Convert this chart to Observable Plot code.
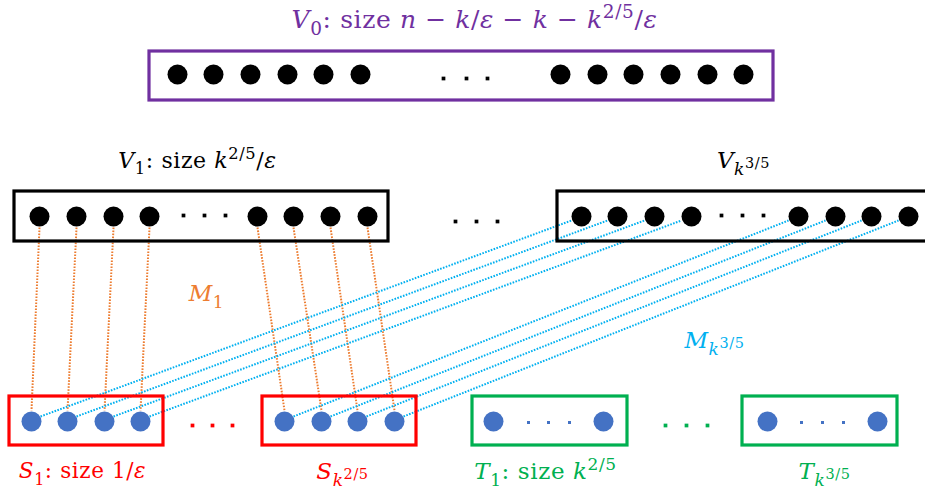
<!DOCTYPE html>
<html>
<head>
<meta charset="utf-8">
<script src="https://cdn.jsdelivr.net/npm/d3@7"></script>
<script src="https://cdn.jsdelivr.net/npm/@observablehq/plot@0.6"></script>
<style>
  html, body { margin: 0; padding: 0; background: #fff; }
  svg { display: block; }
</style>
</head>
<body>
<div id="chart"></div>
<script>
// ---- data (diagram layout values, in pixel units of the 925x500 canvas) ----
const rowY = { V0: 74, V: 216, S: 421 };
const v0Dots = [177, 213, 250, 287, 323, 360, 560, 597, 633, 670, 707, 743];
const v1Dots = [39, 76, 113, 149, 257, 293, 330, 367];
const vkDots = [581, 617, 654, 691, 798, 835, 871, 908];
const s1Dots = [31, 67, 104, 140];
const skDots = [284, 321, 357, 394];
const tDots = [493, 603, 767, 877];
const boxNames = ["V0", "V1", "Vk", "S1", "Sk", "T1", "Tk"];
const boxKinds = ["V0", "V", "V", "S", "S", "T", "T"];
const boxX1 = [149, 14, 557, 9, 262, 472, 742];
const boxX2 = [773, 388, 930, 163, 416, 627, 897];
const boxY1 = [51, 191, 191, 396, 396, 396, 396];
const boxY2 = [100, 241, 241, 445, 445, 445, 445];
const ellipsisBig = [
  {x: 443, y: 78, k: "V"}, {x: 466, y: 78, k: "V"}, {x: 487, y: 78, k: "V"},
  {x: 183, y: 215, k: "V"}, {x: 204, y: 215, k: "V"}, {x: 225, y: 215, k: "V"},
  {x: 721, y: 215, k: "V"}, {x: 742, y: 215, k: "V"}, {x: 763, y: 215, k: "V"},
  {x: 455, y: 221, k: "V"}, {x: 476, y: 221, k: "V"}, {x: 497, y: 221, k: "V"},
  {x: 192, y: 425, k: "S"}, {x: 212, y: 425, k: "S"}, {x: 232, y: 425, k: "S"},
  {x: 665, y: 425, k: "T"}, {x: 686, y: 425, k: "T"}, {x: 707, y: 425, k: "T"}
];
const ellipsisSmall = [528, 548, 569, 801, 822, 843];
const labels = [
  {x: 474, y: 19, t: "V_0: size n − k/ε − k − k^{2/5}/ε", k: "V0", fs: 25},
  {x: 197, y: 160, t: "V_1: size k^{2/5}/ε", k: "V", fs: 22},
  {x: 743, y: 160, t: "V_{k^{3/5}}", k: "V", fs: 23},
  {x: 82, y: 471, t: "S_1: size 1/ε", k: "S", fs: 21.5},
  {x: 342, y: 471, t: "S_{k^{2/5}}", k: "S", fs: 23},
  {x: 545, y: 471, t: "T_1: size k^{2/5}", k: "T", fs: 23},
  {x: 824, y: 471, t: "T_{k^{3/5}}", k: "T", fs: 23},
  {x: 206, y: 293, t: "M_1", k: "M1", fs: 23},
  {x: 714, y: 340, t: "M_{k^{3/5}}", k: "Mk", fs: 23}
];
const kinds = ["V0", "V", "S", "T", "M1", "Mk"];
const kindColors = ["#7030A0", "#000000", "#FF0000", "#00B050", "#ED7D31", "#00B0F0"];
const dotBlue = "#4472C4";
const mathFont = "DejaVu Serif";

// ---- derived tables ----
const boxes = boxNames.map((n, i) => ({n, k: boxKinds[i], x1: boxX1[i], x2: boxX2[i], y1: boxY1[i], y2: boxY2[i]}));
const sDots = s1Dots.concat(skDots);
const blackDots = v0Dots.map(x => ({x, y: rowY.V0}))
  .concat(v1Dots.map(x => ({x, y: rowY.V})))
  .concat(vkDots.map(x => ({x, y: rowY.V})));
const blueDots = sDots.concat(tDots).map(x => ({x, y: rowY.S}));
const m1Links = v1Dots.map((x, i) => ({x1: x, y1: rowY.V + 11, x2: sDots[i], y2: rowY.S - 11}));
const mkLinks = vkDots.map((x, i) => ({x1: sDots[i] + 9, y1: rowY.S - 5, x2: x - 10, y2: rowY.V + 4}));
const colorOf = k => kindColors[kinds.indexOf(k)];

const plot = Plot.plot({
  width: 925,
  height: 500,
  margin: 0,
  x: {domain: [0, 925], range: [0, 925], axis: null},
  y: {domain: [0, 500], range: [0, 500], axis: null},
  color: {domain: kinds, range: kindColors},
  marks: [
    Plot.link(m1Links, {x1: "x1", y1: "y1", x2: "x2", y2: "y2", stroke: colorOf("M1"), strokeWidth: 2, strokeDasharray: "1.6,1.4"}),
    Plot.link(mkLinks, {x1: "x1", y1: "y1", x2: "x2", y2: "y2", stroke: colorOf("Mk"), strokeWidth: 2, strokeDasharray: "1.6,1.4"}),
    Plot.rect(boxes, {x1: "x1", x2: "x2", y1: "y1", y2: "y2", fill: "none", stroke: d => d.k, strokeWidth: 3.2}),
    Plot.dot(blackDots, {x: "x", y: "y", r: 10, fill: "#000", stroke: "none"}),
    Plot.dot(blueDots, {x: "x", y: "y", r: 10, fill: dotBlue, stroke: "none"}),
    Plot.dot(ellipsisBig, {x: "x", y: "y", r: 2.1, symbol: "square", fill: d => d.k, stroke: "none"}),
    Plot.dot(ellipsisSmall, {x: d => d, y: rowY.S + 1, r: 1.7, symbol: "square", fill: dotBlue, stroke: "none"}),
    ...labels.map(l => Plot.text([l], {x: "x", y: "y", text: "t", fill: colorOf(l.k), fontSize: l.fs,
      fontFamily: mathFont, textAnchor: "middle", lineAnchor: "middle"}))
  ]
});

// ---- math-style formatting of labels (sub/superscripts, italic variables) ----
const NS = "http://www.w3.org/2000/svg";
function formatMath(el, str, size) {
  while (el.firstChild) el.removeChild(el.firstChild);
  el.setAttribute("font-family", mathFont);
  el.setAttribute("letter-spacing", "0.6");
  let cur = 0;
  function emit(txt, off, fs, italic) {
    const t = document.createElementNS(NS, "tspan");
    t.setAttribute("dy", (off - cur).toFixed(2));
    cur = off;
    t.setAttribute("font-size", fs.toFixed(2));
    if (italic) t.setAttribute("font-style", "italic");
    t.textContent = txt;
    el.appendChild(t);
  }
  function parse(s, off, fs, depth) {
    let i = 0;
    while (i < s.length) {
      const c = s[i];
      if (c === "_" || c === "^") {
        i++;
        let g;
        if (s[i] === "{") {
          let d = 1, j = i + 1;
          while (d > 0) { if (s[j] === "{") d++; else if (s[j] === "}") d--; j++; }
          g = s.slice(i + 1, j - 1); i = j;
        } else { g = s[i]; i++; }
        const scale = depth === 0 ? 0.74 : 0.85;
        parse(g, off + (c === "_" ? fs * 0.3 : -fs * 0.4), fs * scale, depth + 1);
      } else {
        let j = i;
        while (j < s.length && s[j] !== "_" && s[j] !== "^") j++;
        const run = s.slice(i, j); i = j;
        (run.match(/size|[A-Za-zε]|[^A-Za-zε]+/g) || []).forEach(tok =>
          emit(tok, off, fs, tok !== "size" && /^[A-Za-zε]$/.test(tok)));
      }
    }
  }
  parse(str, 0, size, 0);
}
d3.select(plot).selectAll("text").each(function() {
  const s = this.textContent;
  const l = labels.find(d => d.t === s);
  if (l) formatMath(this, s, l.fs);
});

document.getElementById("chart").appendChild(plot);
</script>
</body>
</html>
